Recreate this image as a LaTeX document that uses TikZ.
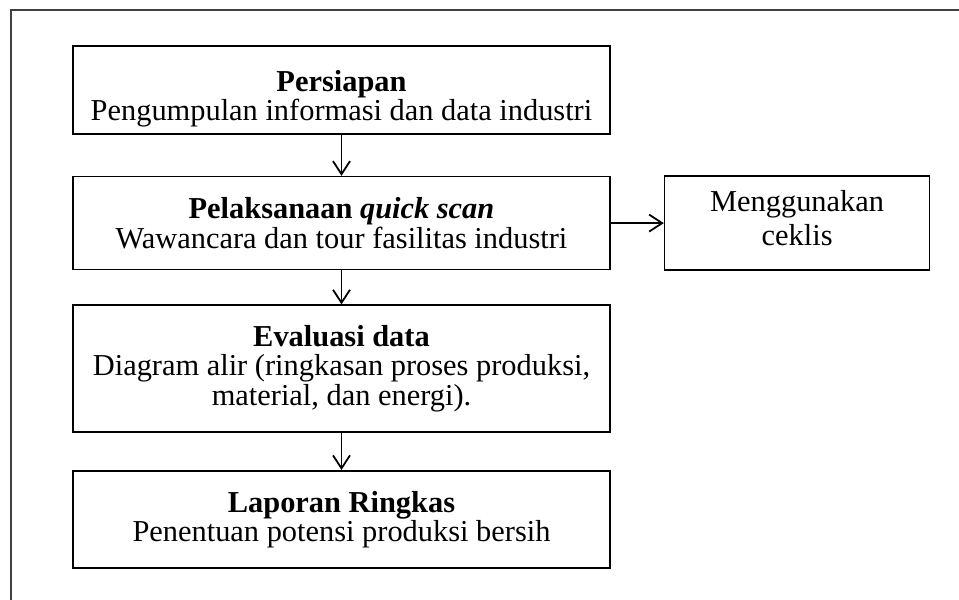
\documentclass[tikz,border=0pt]{standalone}
\usepackage{fontspec}
\setmainfont{Liberation Serif}
\usepackage{tikz}
\usetikzlibrary{positioning,arrows.meta}

\tikzset{
  blok/.style={draw, line width=0.8pt, align=center, inner sep=0pt,
    minimum width=268.5pt, font=\fontsize{15.2}{14.6}\selectfont},
  arr/.style={-{Straight Barb[length=6.5pt,width=8.5pt,line width=0.9pt]}, line width=0.9pt}
}

\begin{document}
\begin{tikzpicture}[x=0.5pt,y=-0.5pt]
\useasboundingbox (0,0) rectangle (959,600);

% frame of the page
\draw[black!75, line width=1pt] (11,600) -- (11,10) -- (959,10);

\node[blok, minimum height=44pt] (persiapan) at (341.5,90)
  {\rule{0pt}{19pt}\textbf{Persiapan}\\Pengumpulan informasi dan data industri};
\node[blok, minimum height=46.5pt, below = 20.5pt of persiapan] (quick_s)
  {\textbf{Pelaksanaan \textit{quick scan}}\\Wawancara dan tour fasilitas industri};
\node[blok, minimum width=132.5pt, minimum height=47pt, right = 26.5pt of quick_s] (ceklis)
  {Menggunakan\\[2.5pt]ceklis\rule[-5pt]{0pt}{5pt}};
\node[blok, minimum height=63.5pt, below = 17pt of quick_s] (evaluasi)
  {\textbf{Evaluasi data}\\Diagram alir (ringkasan proses produksi,\\material, dan energi).};
\node[blok, minimum height=48.5pt, below = 18.5pt of evaluasi] (laporan)
  {\textbf{Laporan Ringkas}\\Penentuan potensi produksi bersih};

\draw[arr] (persiapan) -- (quick_s);
\draw[arr] (quick_s) -- (ceklis);
\draw[arr] (quick_s) -- (evaluasi);
\draw[arr] (evaluasi) -- (laporan);
\end{tikzpicture}
\end{document}
